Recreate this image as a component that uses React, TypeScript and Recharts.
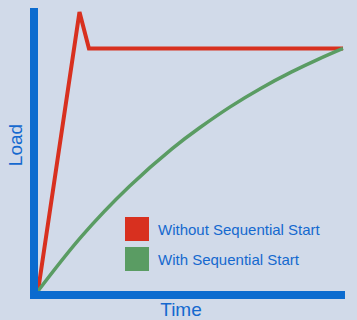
import { LineChart, Line, XAxis, YAxis, Legend, Label } from 'recharts';

// Load curves over time (time and load on a 0-100 scale)
const seriesNames = ['Without Sequential Start', 'With Sequential Start'];
const seriesColors = ['#d8301f', '#5a9c63'];

const withoutTime = [0, 13.6, 16.7, 100];
const withoutLoad = [0, 115, 100, 100];

const withTime = [0, 14, 30, 44, 53, 63, 73, 83, 92, 100];
const withLoad = [0, 22.1, 43.2, 58.7, 67.3, 75.9, 83.5, 90.2, 95.6, 100];

const axisColor = '#0b6bcf';
const textColor = '#1569cf';
const bgColor = '#d1dae9';
const fontFamily = "'Liberation Sans', Arial, sans-serif";

const withoutData = withoutTime.map((t, i) => ({ t, load: withoutLoad[i] }));
const withData = withTime.map((t, i) => ({ t, load: withLoad[i] }));

function YTitle(props: any) {
  const vb = props.viewBox;
  const cx = vb.x + vb.width / 2 - 1.5;
  const cy = vb.y + vb.height / 2 - 8.5;
  return (
    <text
      x={cx}
      y={cy}
      transform={`rotate(-90 ${cx} ${cy})`}
      textAnchor="middle"
      dominantBaseline="central"
      fill={textColor}
      fontSize={19}
      fontFamily={fontFamily}
    >
      Load
    </text>
  );
}

function XTitle(props: any) {
  const vb = props.viewBox;
  return (
    <text
      x={vb.x + vb.width / 2 - 8.5}
      y={vb.y + 21}
      textAnchor="middle"
      fill={textColor}
      fontSize={19}
      fontFamily={fontFamily}
    >
      Time
    </text>
  );
}

// keep legend rows in series order (red first)
function LegendBox(props: any) {
  const items = [...(props.payload || [])].sort(
    (a: any, b: any) => seriesNames.indexOf(a.value) - seriesNames.indexOf(b.value)
  );
  return (
    <div style={{ display: 'flex', flexDirection: 'column', gap: 6 }}>
      {items.map((item: any) => (
        <div key={item.value} style={{ display: 'flex', alignItems: 'center', height: 24 }}>
          <div style={{ width: 24, height: 24, background: item.color, marginRight: 9 }} />
          <span style={{ color: textColor, fontSize: 15, fontFamily, whiteSpace: 'nowrap' }}>
            {item.value}
          </span>
        </div>
      ))}
    </div>
  );
}

export default function App() {
  return (
    <div style={{ position: 'absolute', left: 0, top: 0, width: 357, height: 320, background: bgColor }}>
      <LineChart width={357} height={320} margin={{ top: 12, right: 12, bottom: 0, left: 0 }}>
        <XAxis
          type="number"
          dataKey="t"
          domain={[0, 100]}
          tick={false}
          tickLine={false}
          height={25}
          padding={{ left: 4, right: 2 }}
          axisLine={{ stroke: axisColor, strokeWidth: 8, strokeLinecap: 'butt' }}
        >
          <Label content={XTitle} />
        </XAxis>
        <YAxis
          type="number"
          domain={[0, 115]}
          tick={false}
          tickLine={false}
          width={34}
          padding={{ bottom: 4, top: 0 }}
          axisLine={{ stroke: axisColor, strokeWidth: 8, strokeLinecap: 'square' }}
        >
          <Label content={YTitle} />
        </YAxis>
        <Legend
          layout="vertical"
          align="center"
          verticalAlign="middle"
          content={LegendBox}
          wrapperStyle={{ left: 125, top: 217, width: 'auto' }}
        />
        <Line
          data={withoutData}
          dataKey="load"
          name={seriesNames[0]}
          type="linear"
          stroke={seriesColors[0]}
          strokeWidth={4}
          dot={false}
          isAnimationActive={false}
        />
        <Line
          data={withData}
          dataKey="load"
          name={seriesNames[1]}
          type="natural"
          stroke={seriesColors[1]}
          strokeWidth={3.5}
          dot={false}
          isAnimationActive={false}
        />
      </LineChart>
    </div>
  );
}
